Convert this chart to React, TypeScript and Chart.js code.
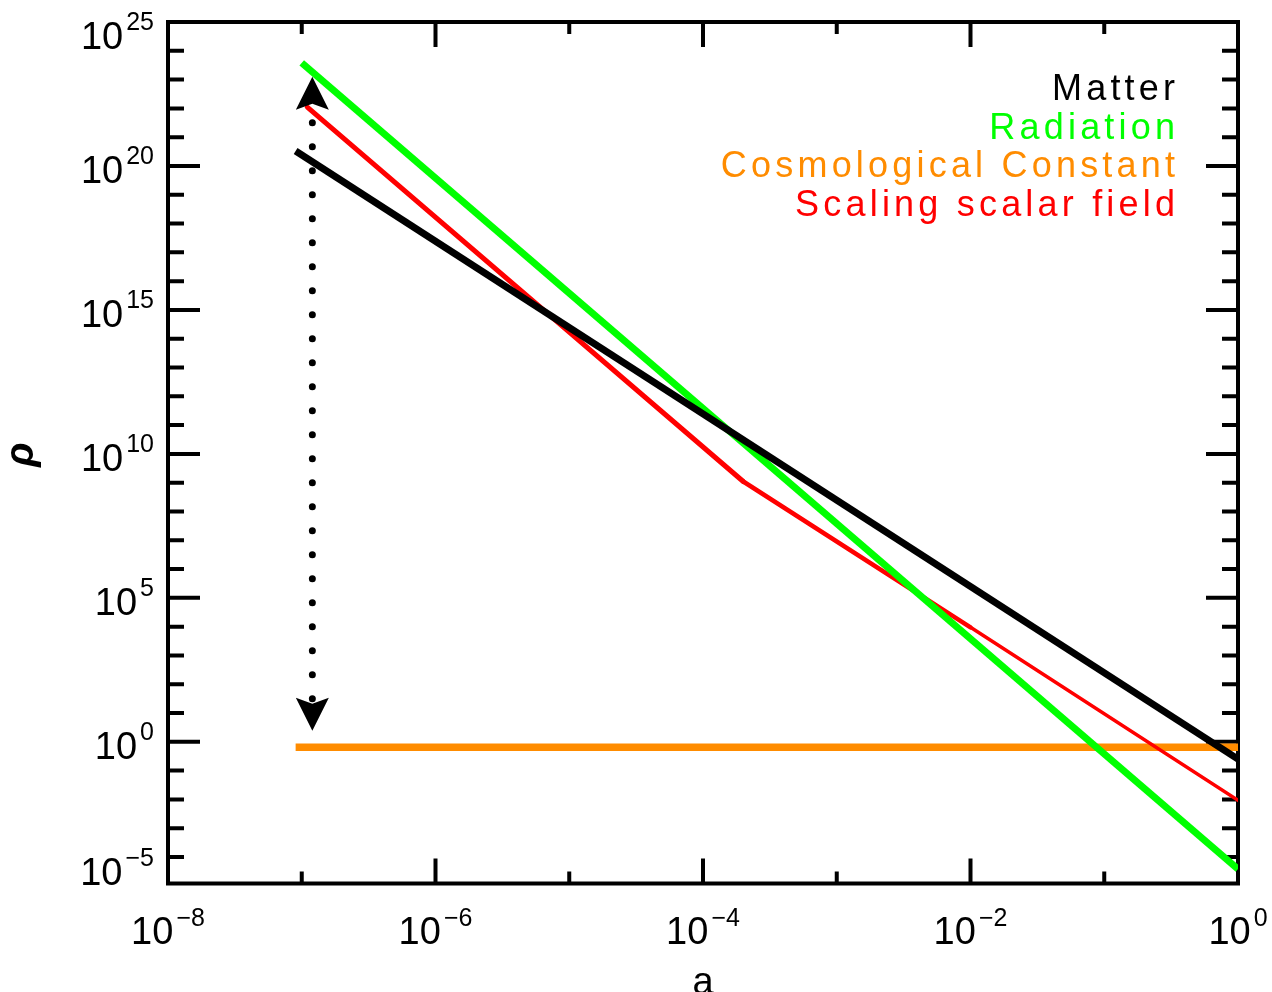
import React, { useEffect, useRef } from "react";
import { Chart, registerables } from "chart.js";

Chart.register(...registerables);

// ---- data ----
const matterA = [9e-8, 1];
const matterRho = [3.3e20, 0.25];
const radiationA = [1e-7, 1];
const radiationRho = [3.8e23, 3.8e-5];
const lambdaA = [9e-8, 1];
const lambdaRho = [0.65, 0.65];
const scalarA = [1.1e-7, 2e-4, 1e-2, 1];
const scalarRho = [1.1e22, 1.1e9, 9.5e3, 9.3e-3];
const arrowA = [1.2e-7, 1.2e-7];
const arrowRho = [1.26e23, 2.4];

const xMin = 1e-8;
const xMax = 1;
const yMin = 1.2e-5;
const yMax = 1e25;
const xLabelExponents = [-8, -6, -4, -2, 0];
const yLabelExponents = [-5, 0, 5, 10, 15, 20, 25];

const legendLabels = ["Matter", "Radiation", "Cosmological Constant", "Scaling scalar field"];
const legendColors = ["#000000", "#00ff00", "#ff8c00", "#ff0000"];
const xTitle = "a";
const yTitle = "ρ";

const FONT = "'Liberation Sans', Arial, sans-serif";
const scalarSegmentWidths = [5, 4.5, 3.5];

function pts(a: number[], r: number[]) {
  return a.map((x, i) => ({ x, y: r[i] }));
}

function supText(e: number) {
  return e < 0 ? "\u2212" + Math.abs(e) : String(e);
}

const framePlugin = {
  id: "frame",
  beforeDatasetsDraw(chart: any) {
    const ctx = chart.ctx;
    const { left, right, top, bottom } = chart.chartArea;
    const xs = chart.scales.x;
    const ys = chart.scales.y;
    ctx.save();
    ctx.strokeStyle = "#000";
    ctx.lineWidth = 4;
    ctx.lineCap = "butt";
    ctx.beginPath();
    for (let e = Math.round(Math.log10(xMin)); e <= Math.round(Math.log10(xMax)); e++) {
      const x = xs.getPixelForValue(Math.pow(10, e));
      const len = xLabelExponents.includes(e) ? 25 : 12;
      ctx.moveTo(x, bottom);
      ctx.lineTo(x, bottom - len);
      ctx.moveTo(x, top);
      ctx.lineTo(x, top + len);
    }
    for (let e = -5; e <= 25; e++) {
      const v = Math.pow(10, e);
      if (v < yMin * 0.999 || v > yMax * 1.001) continue;
      const y = ys.getPixelForValue(v);
      const len = yLabelExponents.includes(e) ? 32 : 16;
      ctx.moveTo(left, y);
      ctx.lineTo(left + len, y);
      ctx.moveTo(right, y);
      ctx.lineTo(right - len, y);
    }
    ctx.stroke();
    ctx.lineJoin = "miter";
    ctx.strokeRect(left, top, right - left, bottom - top);
    ctx.restore();
  },
  afterDatasetsDraw(chart: any) {
    const ctx = chart.ctx;
    const { left, right, top, bottom } = chart.chartArea;
    const xs = chart.scales.x;
    const ys = chart.scales.y;
    ctx.save();

    // dotted double arrow
    const ax = xs.getPixelForValue(arrowA[0]);
    const yTop = ys.getPixelForValue(arrowRho[0]);
    const yBot = ys.getPixelForValue(arrowRho[1]);
    ctx.strokeStyle = "#000";
    ctx.fillStyle = "#000";
    ctx.lineWidth = 7;
    ctx.lineCap = "round";
    ctx.setLineDash([0, 24]);
    ctx.beginPath();
    ctx.moveTo(ax, yTop + 46);
    ctx.lineTo(ax, yBot - 31);
    ctx.stroke();
    ctx.setLineDash([]);
    ctx.beginPath();
    ctx.moveTo(ax, yTop);
    ctx.lineTo(ax + 16.5, yTop + 33);
    ctx.lineTo(ax, yTop + 27);
    ctx.lineTo(ax - 16.5, yTop + 33);
    ctx.closePath();
    ctx.fill();
    ctx.beginPath();
    ctx.moveTo(ax, yBot);
    ctx.lineTo(ax + 16.5, yBot - 33);
    ctx.lineTo(ax, yBot - 27);
    ctx.lineTo(ax - 16.5, yBot - 33);
    ctx.closePath();
    ctx.fill();

    // tick labels
    ctx.fillStyle = "#000";
    ctx.textBaseline = "alphabetic";
    const mainFont = "38px " + FONT;
    const supFont = "25px " + FONT;
    for (const e of yLabelExponents) {
      const y = ys.getPixelForValue(Math.pow(10, e));
      const base = Math.min(Math.max(y + 17, top + 27), bottom + 1);
      const rightEdge = left - 14;
      ctx.font = supFont;
      ctx.textAlign = "right";
      const s = supText(e);
      const sw = ctx.measureText(s).width;
      ctx.fillText(s, rightEdge, base - 19);
      ctx.font = mainFont;
      ctx.fillText("10", rightEdge - sw - 3, base);
    }
    for (const e of xLabelExponents) {
      const x = xs.getPixelForValue(Math.pow(10, e));
      ctx.font = mainFont;
      const w1 = ctx.measureText("10").width;
      ctx.font = supFont;
      const s = supText(e);
      const w2 = ctx.measureText(s).width;
      const start = x - (w1 + 3 + w2) / 2;
      ctx.textAlign = "left";
      ctx.font = mainFont;
      ctx.fillText("10", start, bottom + 60);
      ctx.font = supFont;
      ctx.fillText(s, start + w1 + 3, bottom + 42);
    }

    // axis titles
    ctx.font = "38px " + FONT;
    ctx.textAlign = "center";
    ctx.fillText(xTitle, (left + right) / 2, bottom + 110);
    ctx.save();
    ctx.translate(33, (top + bottom) / 2 + 2);
    ctx.rotate(-Math.PI / 2);
    ctx.font = "bold italic 40px " + FONT;
    ctx.textAlign = "center";
    ctx.fillText(yTitle, 0, 0);
    ctx.restore();

    // legend text (right aligned)
    ctx.font = "36px " + FONT;
    const spacing = 4.2;
    (ctx as any).letterSpacing = spacing + "px";
    ctx.textAlign = "left";
    legendLabels.forEach((lab, i) => {
      const w = ctx.measureText(lab).width - spacing;
      ctx.fillStyle = legendColors[i];
      ctx.fillText(lab, right - 63 - w, top + 78 + i * 38.5);
    });
    ctx.restore();
  },
};

export default function App() {
  const canvasRef = useRef<HTMLCanvasElement | null>(null);

  useEffect(() => {
    if (!canvasRef.current) return;
    const scalarPts = pts(scalarA, scalarRho);
    const scalarSets = scalarSegmentWidths.map((w, i) => ({
      label: legendLabels[3],
      data: scalarPts.slice(i, i + 2),
      borderColor: legendColors[3],
      borderWidth: w,
      borderCapStyle: "round",
      pointRadius: 0,
      order: 2,
    }));
    const chart = new Chart(canvasRef.current, {
      type: "line",
      data: {
        datasets: [
          {
            label: legendLabels[0],
            data: pts(matterA, matterRho),
            borderColor: legendColors[0],
            borderWidth: 7,
            pointRadius: 0,
            order: 0,
          },
          {
            label: legendLabels[1],
            data: pts(radiationA, radiationRho),
            borderColor: legendColors[1],
            borderWidth: 7,
            pointRadius: 0,
            order: 1,
          },
          {
            label: legendLabels[2],
            data: pts(lambdaA, lambdaRho),
            borderColor: legendColors[2],
            borderWidth: 7.5,
            pointRadius: 0,
            order: 3,
          },
          ...scalarSets,
        ] as any,
      },
      options: {
        animation: false,
        responsive: true,
        maintainAspectRatio: false,
        layout: { padding: { left: 168, right: 34, top: 22, bottom: 108.5 } },
        plugins: { legend: { display: false }, tooltip: { enabled: false } },
        scales: {
          x: { type: "logarithmic", min: xMin, max: xMax, display: false },
          y: { type: "logarithmic", min: yMin, max: yMax, display: false },
        },
      } as any,
      plugins: [framePlugin],
    });
    return () => chart.destroy();
  }, []);

  return (
    <div style={{ position: "fixed", left: 0, top: 0, width: 1272, height: 992, background: "#fff" }}>
      <canvas ref={canvasRef} />
    </div>
  );
}
